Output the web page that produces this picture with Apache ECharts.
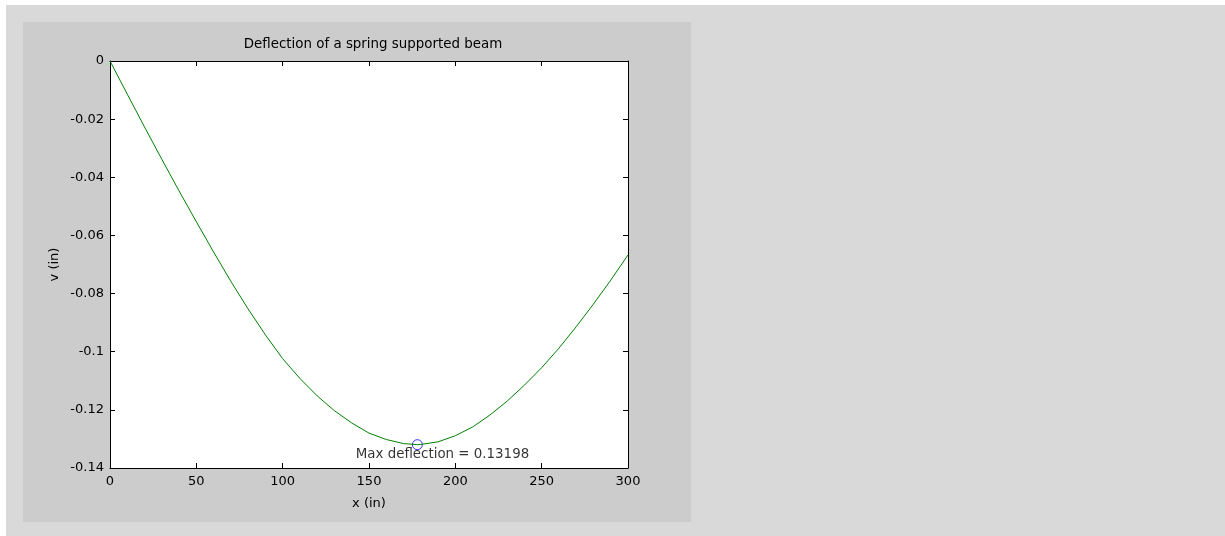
<!DOCTYPE html>
<html>
<head>
<meta charset="utf-8">
<script src="https://cdn.jsdelivr.net/npm/echarts@6/dist/echarts.min.js"></script>
<style>
html,body{margin:0;padding:0;background:#ffffff;}
#chart{width:1225px;height:536px;}
</style>
</head>
<body>
<div id="chart"></div>
<script>
// Data
const xValues = [0, 10, 20, 30, 40, 50, 60, 70, 80, 90, 100, 110, 120, 130, 140, 150, 160, 170, 178, 180, 190, 200, 210, 220, 230, 240, 250, 260, 270, 280, 290, 300];
const deflection = [0, -0.0114, -0.0227, -0.0338, -0.0447, -0.0553, -0.0657, -0.0758, -0.0853, -0.0942, -0.1024, -0.1092, -0.1152, -0.1203, -0.1245, -0.1280, -0.1302, -0.1316, -0.13198, -0.1319, -0.1310, -0.1289, -0.1259, -0.1218, -0.1170, -0.1115, -0.1055, -0.0988, -0.0914, -0.0836, -0.0754, -0.0667];
const maxPoint = [178, -0.13198];
const annotationPos = [142.3, -0.1354];
const annotationText = 'Max deflection = 0.13198';
const titleText = 'Deflection of a spring supported beam';
const xLabel = 'x (in)';
const yLabel = 'v (in)';

const FONT = 'DejaVu Sans';
const chart = echarts.init(document.getElementById('chart'), null, {renderer: 'canvas'});

const lineData = xValues.map((x, i) => [x, deflection[i]]);

const axisCommon = {
  axisLine: {show: true, onZero: false, lineStyle: {color: '#000', width: 1}},
  axisTick: {show: true, inside: true, length: 5, lineStyle: {color: '#000', width: 1}},
  splitLine: {show: false}
};

chart.setOption({
  animation: false,
  backgroundColor: '#ffffff',
  graphic: [
    {type: 'rect', z: -10, shape: {x: 6, y: 5, width: 1219, height: 531}, style: {fill: '#d9d9d9'}},
    {type: 'rect', z: -9, shape: {x: 23, y: 22, width: 668, height: 500}, style: {fill: '#cccccc'}}
  ],
  title: {
    text: titleText,
    left: 368,
    top: 33,
    textAlign: 'center',
    textStyle: {fontFamily: FONT, fontSize: 13.4, fontWeight: 'normal', color: '#000'}
  },
  grid: {left: 110, top: 61, width: 518, height: 407, show: true, backgroundColor: '#ffffff', borderWidth: 0},
  xAxis: [
    Object.assign({
      type: 'value', position: 'bottom', min: 0, max: 300, interval: 50,
      name: xLabel, nameLocation: 'middle', nameGap: 29,
      nameTextStyle: {fontFamily: FONT, fontSize: 13, color: '#000'},
      axisLabel: {show: true, margin: 7, fontFamily: FONT, fontSize: 13, color: '#000'}
    }, axisCommon),
    Object.assign({
      type: 'value', position: 'top', min: 0, max: 300, interval: 50,
      axisLabel: {show: false}
    }, axisCommon)
  ],
  yAxis: [
    Object.assign({
      type: 'value', position: 'left', min: -0.14, max: 0, interval: 0.02,
      name: yLabel, nameLocation: 'middle', nameGap: 49, nameRotate: 90,
      nameTextStyle: {fontFamily: FONT, fontSize: 13, color: '#000'},
      axisLabel: {show: true, margin: 6, fontFamily: FONT, fontSize: 13, color: '#000',
        formatter: v => String(parseFloat(v.toFixed(4)))}
    }, axisCommon),
    Object.assign({
      type: 'value', position: 'right', min: -0.14, max: 0, interval: 0.02,
      axisLabel: {show: false}
    }, axisCommon)
  ],
  series: [
    {
      type: 'line', data: lineData, xAxisIndex: 0, yAxisIndex: 0,
      showSymbol: false, smooth: false,
      lineStyle: {color: '#008000', width: 1},
      itemStyle: {color: '#008000'}
    },
    {
      type: 'scatter', data: [maxPoint], xAxisIndex: 0, yAxisIndex: 0,
      symbol: 'circle', symbolSize: 10,
      itemStyle: {color: 'rgba(0,0,0,0)', borderColor: '#0000ff', borderWidth: 1}
    },
    {
      type: 'scatter', data: [annotationPos], xAxisIndex: 0, yAxisIndex: 0,
      symbol: 'circle', symbolSize: 0, silent: true,
      label: {show: true, position: 'right', distance: 0, formatter: annotationText,
        fontFamily: FONT, fontSize: 13.4, color: '#000'}
    }
  ]
});
</script>
</body>
</html>
